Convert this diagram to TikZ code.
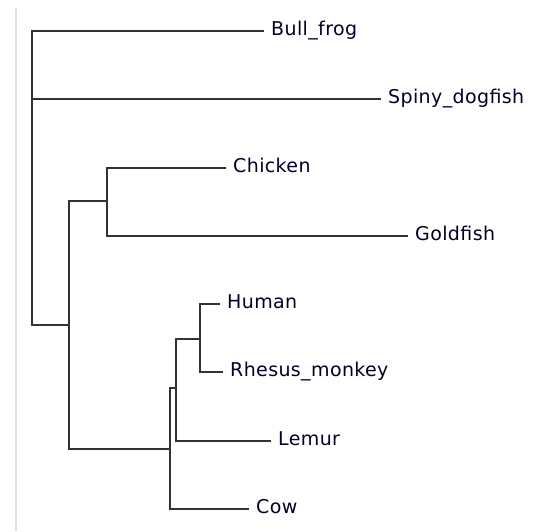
\documentclass[tikz,border=0pt]{standalone}
\usepackage{fontspec}
\setmainfont[LetterSpace=2]{DejaVu Sans}
\begin{document}
\begin{tikzpicture}[x=1pt,y=1pt,
  branch/.style={draw=black!80,line width=1.6pt,line cap=rect},
  leaf/.style={anchor=west,inner xsep=8pt,inner ysep=0pt,text height=0.9em,text depth=0.1em,
    font=\fontsize{19}{21}\selectfont,text=black!85!blue}]
\useasboundingbox (0,0) rectangle (539,-531);
\draw[black!12,line width=2pt] (16,-8) -- (16,-531);
% internal nodes
\coordinate (r) at (32,-325);
\coordinate (A) at (69,-325);
\coordinate (B) at (107,-201);
\coordinate (C) at (170,-449);
\coordinate (D) at (176,-388);
\coordinate (E) at (200,-339);
% leaves
\node[leaf] (bull) at (263,-31) {Bull\_frog};
\node[leaf] (spiny) at (380,-99) {Spiny\_dogfish};
\node[leaf] (chicken) at (225,-168) {Chicken};
\node[leaf] (gold) at (407,-236) {Goldfish};
\node[leaf] (human) at (219,-304) {Human};
\node[leaf] (rhesus) at (222,-372) {Rhesus\_monkey};
\node[leaf] (lemur) at (270,-441) {Lemur};
\node[leaf] (cow) at (248,-509) {Cow};
% branches
\draw[branch] (r) |- (bull.west);
\draw[branch] (r) |- (spiny.west);
\draw[branch] (r) -- (A);
\draw[branch] (A) |- (B);
\draw[branch] (A) |- (C);
\draw[branch] (B) |- (chicken.west);
\draw[branch] (B) |- (gold.west);
\draw[branch] (C) |- (D);
\draw[branch] (C) |- (cow.west);
\draw[branch] (D) |- (E);
\draw[branch] (D) |- (lemur.west);
\draw[branch] (E) |- (human.west);
\draw[branch] (E) |- (rhesus.west);
\end{tikzpicture}
\end{document}
